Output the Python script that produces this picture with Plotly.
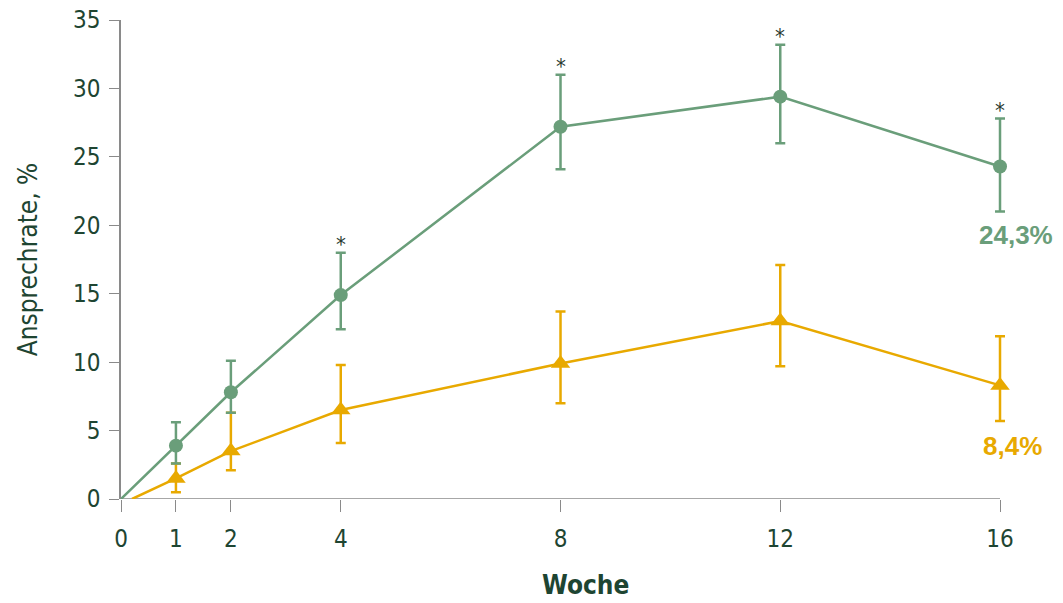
import plotly.graph_objects as go

weeks = [1, 2, 4, 8, 12, 16]
green_vals = [3.9, 7.8, 14.9, 27.2, 29.4, 24.3]
green_hi = [5.6, 10.1, 18.0, 31.0, 33.2, 27.8]
green_lo = [2.6, 6.3, 12.4, 24.1, 26.0, 21.0]
orange_vals = [1.5, 3.5, 6.5, 9.9, 13.0, 8.3]
orange_hi = [2.6, 6.3, 9.8, 13.7, 17.1, 11.9]
orange_lo = [0.5, 2.1, 4.1, 7.0, 9.7, 5.7]
star_weeks = [4, 8, 12, 16]
green_label = "24,3%"
orange_label = "8,4%"
x_title = "Woche"
y_title = "Ansprechrate, %"
x_ticks = [0, 1, 2, 4, 8, 12, 16]
y_ticks = [0, 5, 10, 15, 20, 25, 30, 35]

GREEN = "#6a9e7a"
ORANGE = "#e8a900"
TEXT = "#1e4532"
AXIS = "#8a8a8a"
FONT = "Liberation Sans Narrow, DejaVu Sans Condensed, Roboto, sans-serif"

fig = go.Figure()

fig.add_trace(go.Scatter(x=[0] + weeks, y=[0] + green_vals, mode="lines", cliponaxis=False,
                         line=dict(color=GREEN, width=2.5), showlegend=False, hoverinfo="skip"))
fig.add_trace(go.Scatter(x=[0.2] + weeks, y=[0] + orange_vals, mode="lines", cliponaxis=False,
                         line=dict(color=ORANGE, width=2.5), showlegend=False, hoverinfo="skip"))

fig.add_trace(go.Scatter(
    x=weeks, y=orange_vals, mode="markers", cliponaxis=False,
    marker=dict(symbol="triangle-up", size=17, color=ORANGE),
    error_y=dict(type="data", symmetric=False,
                 array=[h - v for h, v in zip(orange_hi, orange_vals)],
                 arrayminus=[v - l for v, l in zip(orange_vals, orange_lo)],
                 color=ORANGE, thickness=2.5, width=5),
    showlegend=False))

fig.add_trace(go.Scatter(
    x=weeks, y=green_vals, mode="markers", cliponaxis=False,
    marker=dict(symbol="circle", size=14, color=GREEN),
    error_y=dict(type="data", symmetric=False,
                 array=[h - v for h, v in zip(green_hi, green_vals)],
                 arrayminus=[v - l for v, l in zip(green_vals, green_lo)],
                 color=GREEN, thickness=2.5, width=5),
    showlegend=False))

for w in star_weeks:
    i = weeks.index(w)
    fig.add_annotation(x=w, y=green_hi[i], text="*", showarrow=False,
                       yanchor="bottom", yshift=-6,
                       font=dict(size=22, color="#2a3a30", family=FONT))

fig.add_annotation(x=16, y=green_lo[-1], text=f"<b>{green_label}</b>", showarrow=False,
                   xanchor="center", yanchor="top", xshift=16, yshift=-6,
                   font=dict(size=26, color=GREEN, family="Liberation Sans, Arial, sans-serif"))
fig.add_annotation(x=16, y=orange_lo[-1], text=f"<b>{orange_label}</b>", showarrow=False,
                   xanchor="center", yanchor="top", xshift=12, yshift=-8,
                   font=dict(size=26, color=ORANGE, family="Liberation Sans, Arial, sans-serif"))

# x axis title (slightly right of plot centre, as in the original)
fig.add_annotation(x=8.45, xref="x", y=0, yref="paper", text=f"<b>{x_title}</b>", showarrow=False,
                   xanchor="center", yanchor="top", yshift=-69,
                   font=dict(size=26, color=TEXT, family=FONT))

# x axis baseline ending exactly at the last week
fig.add_shape(type="line", xref="x", yref="y", x0=0, x1=x_ticks[-1], y0=0, y1=0,
              line=dict(color=AXIS, width=1.5), layer="below")

fig.update_xaxes(range=[0, 16.2], tickvals=x_ticks, ticktext=[str(t) for t in x_ticks],
                 showline=False,
                 ticks="outside", ticklen=12, tickcolor=AXIS, tickwidth=1,
                 ticklabelstandoff=6,
                 showgrid=False, zeroline=False,
                 tickfont=dict(size=24, color=TEXT, family=FONT))
fig.update_yaxes(range=[0, 35], tickvals=y_ticks,
                 showline=True, linecolor=AXIS, linewidth=1.5,
                 ticks="outside", ticklen=10, tickcolor=AXIS, tickwidth=1,
                 ticklabelstandoff=4,
                 showgrid=False, zeroline=False,
                 tickfont=dict(size=24, color=TEXT, family=FONT),
                 title=dict(text=y_title, font=dict(size=26, color=TEXT, family=FONT), standoff=28))

fig.update_layout(width=1063, height=603, plot_bgcolor="white", paper_bgcolor="white",
                  margin=dict(l=121, r=52, t=20, b=104, autoexpand=False), showlegend=False)

fig.write_html("out.html")
